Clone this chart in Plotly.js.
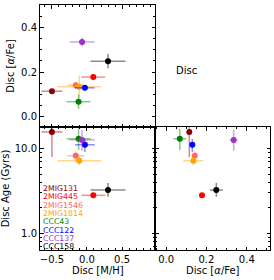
<!DOCTYPE html>
<html><head><meta charset="utf-8">
<script src="https://cdn.plot.ly/plotly-3.0.1.min.js"></script>
<style>html,body{margin:0;padding:0;background:#fff;}</style>
</head><body><div id="chart" style="width:274px;height:280px;"></div>
<script>
const names = ["2MIG131","2MIG445","2MIG1546","2MIG1814","CCC43","CCC122","CCC137","CCC158"];
const colors = ["#8b0000","#ff0000","#ff6a5a","#ffa500","#008000","#0000ff","#9932cc","#000000"];
const mh      = [-0.50, 0.09, -0.16, -0.11, -0.12, -0.03, -0.07, 0.30];
const mhErr   = [0.15, 0.17, 0.12, 0.31, 0.17, 0.14, 0.18, 0.25];
const afe     = [0.115, 0.178, 0.142, 0.135, 0.068, 0.130, 0.335, 0.249];
const afeErr  = [0.01, 0.015, 0.015, 0.05, 0.032, 0.012, 0.02, 0.032];
const age     = [15.9, 2.81, 8.3, 7.25, 13.2, 11.2, 12.8, 3.25];
const agePlus = [6.0, 0.15, 1.0, 0.8, 4.2, 2.0, 4.0, 0.7];
const ageMinus= [7.9, 0.15, 1.2, 0.8, 3.5, 2.0, 3.3, 0.55];

function rgba(hex,a){const n=parseInt(hex.slice(1),16);return `rgba(${(n>>16)&255},${(n>>8)&255},${n&255},${a})`;}
const traces=[];
names.forEach((n,i)=>{
  const c=colors[i], ec=rgba(c,0.45);
  const mk={color:c,size:6};
  traces.push({type:'scatter',mode:'markers',x:[mh[i]],y:[afe[i]],xaxis:'x3',yaxis:'y3',marker:mk,
    error_x:{type:'data',array:[mhErr[i]],color:ec,thickness:1.5,width:0},
    error_y:{type:'data',array:[afeErr[i]],color:ec,thickness:1.5,width:0},showlegend:false});
  traces.push({type:'scatter',mode:'markers',x:[mh[i]],y:[age[i]],xaxis:'x',yaxis:'y',marker:mk,
    error_x:{type:'data',array:[mhErr[i]],color:ec,thickness:1.5,width:0},
    error_y:{type:'data',symmetric:false,array:[agePlus[i]],arrayminus:[ageMinus[i]],color:ec,thickness:1.5,width:0},showlegend:false});
  traces.push({type:'scatter',mode:'markers',x:[afe[i]],y:[age[i]],xaxis:'x2',yaxis:'y2',marker:mk,
    error_x:{type:'data',array:[afeErr[i]],color:ec,thickness:1.5,width:0},
    error_y:{type:'data',symmetric:false,array:[agePlus[i]],arrayminus:[ageMinus[i]],color:ec,thickness:1.5,width:0},showlegend:false});
});
const font={family:'DejaVu Sans',size:10,color:'#000'};
const base={showline:true,linecolor:'#000',linewidth:1,mirror:'allticks',ticks:'inside',ticklen:3.5,tickcolor:'#000',
  showgrid:false,zeroline:false,tickfont:font};
const mhMinor={ticks:'inside',ticklen:2,dtick:0.1,tickcolor:'#000'};
const afeMinor={ticks:'inside',ticklen:2,dtick:0.05,tickcolor:'#000'};
const logMinor={ticks:'inside',ticklen:2,tickcolor:'#000',dtick:'D1'};
const annotations=[
  {text:'Disc',xref:'paper',yref:'paper',x:0.691,y:0.763,showarrow:false,font:font},
  {text:'Disc [M/H]',xref:'x domain',yref:'paper',x:0.5,y:-0.056,yanchor:'top',borderpad:0,showarrow:false,font:font},
  {text:'Disc [<i>α</i>/Fe]',xref:'x2 domain',yref:'paper',x:0.5,y:-0.056,yanchor:'top',borderpad:0,showarrow:false,font:font}];
names.forEach((n,i)=>{
  annotations.push({text:n,xref:'paper',yref:'paper',x:0.008,y:(250-(188.5+8.3*i))/245,xanchor:'left',yanchor:'middle',showarrow:false,
    borderpad:0,font:{family:'DejaVu Sans',size:7.8,color:colors[i]}});
});
const layout={width:274,height:280,margin:{l:40,r:4,t:5,b:30},paper_bgcolor:'#fff',plot_bgcolor:'#fff',showlegend:false,font:font,
  xaxis:Object.assign({},base,{domain:[0,0.5],range:[-0.67,0.97],anchor:'y',tickvals:[-0.5,0,0.5],ticktext:['−0.5','0.0','0.5'],minor:mhMinor}),
  yaxis:Object.assign({},base,{domain:[0,0.502],type:'log',range:[-0.2,1.26],anchor:'x',tickvals:[1,10],ticktext:['1.0','10.0'],minor:logMinor,
    title:{text:'Disc Age (Gyrs)',font:font,standoff:4}}),
  xaxis2:Object.assign({},base,{domain:[0.5,1],range:[-0.055,0.515],anchor:'y2',tickvals:[0,0.2,0.4],ticktext:['0.0','0.2','0.4'],minor:afeMinor}),
  yaxis2:Object.assign({},base,{domain:[0,0.502],type:'log',range:[-0.2,1.26],anchor:'x2',tickvals:[1,10],showticklabels:false,minor:logMinor}),
  xaxis3:Object.assign({},base,{domain:[0,0.5],range:[-0.67,0.97],anchor:'y3',tickvals:[-0.5,0,0.5],showticklabels:false,minor:mhMinor}),
  yaxis3:Object.assign({},base,{domain:[0.502,1],range:[-0.045,0.5],anchor:'x3',tickvals:[0,0.2,0.4],ticktext:['0.0','0.2','0.4'],minor:afeMinor,
    title:{text:'Disc [<i>α</i>/Fe]',font:font,standoff:4}}),
  annotations:annotations};
Plotly.newPlot('chart',traces,layout,{displayModeBar:false,staticPlot:true});
</script></body></html>
